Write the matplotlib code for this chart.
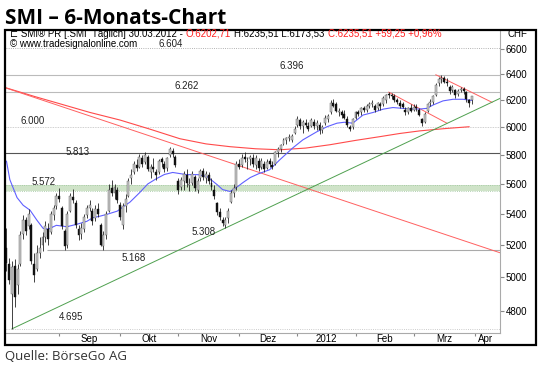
import numpy as np
import pandas as pd
import matplotlib
matplotlib.use("Agg")
import matplotlib.pyplot as plt
from matplotlib.patches import Rectangle
from matplotlib.ticker import FixedLocator, NullFormatter, FixedFormatter

# Handelstage SIX, 05.08.2011 - 30.03.2012
days = pd.bdate_range("2011-08-05", "2012-03-30")
days = days[~days.isin(pd.to_datetime(["2011-12-26", "2012-01-02"]))]

opens = [5180, 5080, 4900, 5070, 4950, 5080, 5270, 5360, 5320, 5330,
         5080, 5050, 5150, 5200, 5250, 5300, 5280, 5390, 5450, 5520,
         5440, 5290, 5200, 5420, 5510, 5470, 5300, 5270, 5300, 5390,
         5440, 5420, 5370, 5430, 5330, 5190, 5260, 5420, 5570, 5540,
         5560, 5460, 5330, 5450, 5520, 5640, 5680, 5730, 5720, 5780,
         5750, 5790, 5680, 5720, 5680, 5680, 5770, 5740, 5710, 5800,
         5830, 5790, 5620, 5580, 5620, 5660, 5590, 5610, 5650, 5560,
         5640, 5690, 5640, 5660, 5610, 5560, 5470, 5410, 5360, 5330,
         5370, 5480, 5540, 5580, 5740, 5730, 5790, 5750, 5770, 5780,
         5730, 5760, 5720, 5740, 5710, 5760, 5730, 5740, 5820, 5840,
         5880, 5910, 5920, 5910, 5960, 6020, 6050, 6010, 6030, 6010,
         6010, 6040, 6010, 6020, 5980, 6030, 6060, 6110, 6180, 6170,
         6110, 6110, 6100, 6060, 6000, 6000, 6070, 6110, 6110, 6140,
         6130, 6160, 6170, 6160, 6140, 6170, 6170, 6200, 6250, 6240,
         6230, 6200, 6180, 6170, 6130, 6110, 6140, 6130, 6150, 6130,
         6060, 6040, 6120, 6180, 6190, 6240, 6330, 6360, 6370, 6340,
         6300, 6280, 6280, 6250, 6280, 6290, 6260, 6200, 6202.71]
highs = [5310, 5120, 5100, 5110, 5080, 5290, 5390, 5380, 5430, 5340,
         5150, 5200, 5250, 5280, 5350, 5340, 5420, 5460, 5540, 5572,
         5450, 5300, 5420, 5540, 5565, 5490, 5330, 5340, 5400, 5460,
         5490, 5440, 5460, 5470, 5340, 5290, 5420, 5600, 5625, 5600,
         5580, 5480, 5470, 5530, 5640, 5700, 5760, 5770, 5810, 5800,
         5820, 5800, 5740, 5780, 5700, 5770, 5790, 5760, 5790, 5860,
         5850, 5800, 5640, 5650, 5690, 5700, 5640, 5690, 5660, 5640,
         5700, 5710, 5690, 5680, 5640, 5590, 5480, 5440, 5380, 5380,
         5440, 5560, 5600, 5760, 5770, 5810, 5820, 5790, 5800, 5810,
         5800, 5780, 5780, 5760, 5770, 5780, 5760, 5830, 5860, 5880,
         5920, 5930, 5950, 5950, 6010, 6080, 6070, 6050, 6060, 6040,
         6070, 6060, 6050, 6040, 6020, 6090, 6100, 6200, 6210, 6190,
         6140, 6130, 6130, 6080, 6020, 6070, 6120, 6130, 6150, 6160,
         6170, 6190, 6200, 6170, 6190, 6190, 6230, 6250, 6262, 6255,
         6250, 6220, 6200, 6190, 6150, 6150, 6170, 6170, 6170, 6140,
         6070, 6110, 6180, 6210, 6240, 6330, 6380, 6396, 6390, 6370,
         6320, 6320, 6290, 6290, 6300, 6300, 6270, 6210, 6235.51]
lows = [5040, 4960, 4695, 4820, 4900, 5070, 5240, 5260, 5300, 5080,
        4970, 5040, 5120, 5160, 5220, 5200, 5270, 5360, 5430, 5480,
        5300, 5168, 5180, 5410, 5470, 5310, 5230, 5240, 5280, 5370,
        5420, 5330, 5350, 5380, 5190, 5168, 5240, 5410, 5520, 5500,
        5470, 5360, 5300, 5410, 5510, 5600, 5670, 5690, 5710, 5720,
        5740, 5690, 5640, 5680, 5630, 5670, 5720, 5680, 5690, 5790,
        5790, 5720, 5530, 5560, 5560, 5580, 5550, 5590, 5550, 5540,
        5620, 5630, 5610, 5600, 5560, 5500, 5390, 5360, 5320, 5308,
        5340, 5470, 5510, 5560, 5700, 5720, 5750, 5700, 5730, 5720,
        5700, 5690, 5700, 5680, 5700, 5720, 5700, 5730, 5790, 5820,
        5870, 5880, 5900, 5890, 5950, 6000, 5990, 5960, 6000, 5970,
        6000, 5990, 5980, 5950, 5960, 6020, 6040, 6100, 6150, 6110,
        6080, 6070, 6060, 6000, 5970, 5990, 6060, 6080, 6090, 6110,
        6110, 6140, 6150, 6110, 6130, 6130, 6160, 6180, 6220, 6210,
        6190, 6170, 6140, 6140, 6090, 6100, 6110, 6120, 6120, 6080,
        6010, 6030, 6110, 6160, 6170, 6230, 6310, 6330, 6330, 6310,
        6250, 6260, 6220, 6230, 6260, 6250, 6190, 6150, 6173.53]
closes = [5085, 4985, 5060, 4880, 5050, 5260, 5360, 5290, 5400, 5100,
          5010, 5150, 5180, 5250, 5320, 5240, 5400, 5440, 5520, 5500,
          5320, 5190, 5400, 5520, 5490, 5330, 5260, 5310, 5380, 5440,
          5460, 5350, 5430, 5400, 5200, 5260, 5400, 5560, 5540, 5580,
          5490, 5380, 5450, 5500, 5620, 5660, 5740, 5710, 5790, 5740,
          5800, 5700, 5720, 5700, 5660, 5760, 5750, 5700, 5780, 5840,
          5810, 5730, 5560, 5630, 5670, 5610, 5600, 5670, 5570, 5620,
          5690, 5650, 5670, 5620, 5580, 5520, 5410, 5380, 5340, 5360,
          5420, 5540, 5570, 5740, 5720, 5780, 5770, 5760, 5790, 5740,
          5780, 5710, 5760, 5700, 5750, 5740, 5720, 5820, 5840, 5870,
          5910, 5920, 5930, 5940, 5990, 6060, 6010, 6040, 6020, 5990,
          6050, 6010, 6030, 5980, 6000, 6070, 6080, 6180, 6160, 6120,
          6120, 6090, 6070, 6020, 5990, 6060, 6110, 6100, 6140, 6130,
          6160, 6170, 6180, 6130, 6180, 6160, 6220, 6240, 6240, 6230,
          6200, 6190, 6160, 6150, 6110, 6140, 6120, 6150, 6140, 6090,
          6030, 6100, 6170, 6190, 6230, 6320, 6360, 6370, 6340, 6330,
          6270, 6300, 6240, 6270, 6290, 6270, 6210, 6176.26, 6235.51]

# gleitende Durchschnitte
blue_x = [0, 1.2, 3.8, 6, 8.5, 11, 13.2, 15, 18, 21.8, 25.4, 29, 31.2, 33.8,
          36.3, 40, 42, 44.6, 48, 51, 54, 57, 60, 65, 69, 72.4, 76, 78, 80.7,
          83, 85.4, 88, 91, 95, 98.7, 103.4, 107, 112, 115.7, 119.3, 122, 125,
          128.7, 132.3, 136, 139.5, 142.8, 145.7, 149.3, 151.8, 154, 157.6,
          161.2, 164.8, 168]
blue_v = [5757, 5630, 5508, 5457, 5424, 5358, 5306, 5300, 5325, 5316, 5332,
          5351, 5375, 5385, 5397, 5418, 5445, 5478, 5540, 5600, 5635, 5665,
          5679, 5664, 5664, 5651, 5596, 5562, 5549, 5576, 5610, 5644, 5670,
          5698, 5768, 5852, 5909, 5967, 6004, 6030, 6037, 6030, 6090, 6109,
          6134, 6146, 6140, 6135, 6135, 6140, 6165, 6196, 6208, 6208, 6200]
ma_x = [0, 10, 19.3, 30, 41, 52, 62.6, 72, 80.7, 90, 98.7, 108, 116.8, 126,
        134.8, 142, 149.3, 158, 167]
ma_v = [6294, 6230, 6174, 6110, 6053, 5985, 5917, 5880, 5860, 5845, 5838,
        5850, 5874, 5905, 5932, 5955, 5974, 5990, 6004]

# Trendlinien
red_long_x, red_long_v = [-0.2, 178.2], [6294, 5150]
red_feb_x, red_feb_v = [138, 159], [6262, 6030]
red_mar_x, red_mar_v = [155, 175.3], [6396, 6185]
green_x, green_v = [2, 178.2], [4695, 6215]

# horizontale Marken
level_labels = [(59.4, 6640, "6.604"), (103, 6466, "6.396"), (65, 6306, "6.262"),
                (9.6, 6046, "6.000"), (25.8, 5824, "5.813"), (13.5, 5616, "5.572"),
                (46, 5119, "5.168"), (71, 5281, "5.308"), (23.3, 4761, "4.695")]

yticks = [4800, 5000, 5200, 5400, 5600, 5800, 6000, 6200, 6400, 6600]
month_names = ["Sep", "Okt", "Nov", "Dez", "2012", "Feb", "Mrz", "Apr"]

W, H = 540, 369
def fx(px): return px / W
def fy(py): return 1 - py / H

plt.rcParams['font.family'] = ['Liberation Sans', 'DejaVu Sans']

fig = plt.figure(figsize=(5.4, 3.69), dpi=100)
ax = fig.add_axes([fx(6), fy(333), fx(494), 302 / H])
ax.set_yscale('log')
ax.set_xlim(-0.18, 178.16)
ax.set_ylim(4671, 6746)

xi = np.arange(len(days))
o, h, l, c = map(np.array, (opens, highs, lows, closes))

# Linien
ax.axhline(6604, color='#999999', lw=0.6, ls=':', zorder=1)
ax.axhline(6396, color='#bbbbbb', lw=0.8, zorder=1)
ax.axhline(6262, color='#bbbbbb', lw=0.8, zorder=1)
ax.axhline(6000, color='#c0c0c0', lw=0.6, ls=(0, (1, 1)), zorder=1)
ax.axhline(5813, color='#555555', lw=0.8, zorder=1)
ax.hlines(5168, 14.5, 178.2, color='#aaaaaa', lw=0.8, zorder=1)
ax.axhline(4695, color='#bbbbbb', lw=0.6, ls=':', zorder=1)
ax.axhspan(5550, 5594, color='#cfe3c8', lw=0, zorder=1)
ax.axhline(5550, color='#9cc49c', lw=0.6, ls=':', zorder=1)
ax.axhline(5594, color='#9cc49c', lw=0.6, ls=':', zorder=1)

ax.plot(ma_x, ma_v, color='#ff4a4a', lw=0.8, zorder=2)
ax.plot(red_long_x, red_long_v, color='#ff6060', lw=0.7, zorder=2)
ax.plot(red_feb_x, red_feb_v, color='#ff6060', lw=0.7, zorder=2)
ax.plot(red_mar_x, red_mar_v, color='#ff6060', lw=0.7, zorder=2)
ax.plot(green_x, green_v, color='#4fa04f', lw=0.7, zorder=2)
ax.plot(blue_x, blue_v, color='#6060ff', lw=0.8, zorder=2)

# Kerzen
up = c >= o
ax.vlines(xi, l, h, color='#222222', lw=0.6, zorder=3)
body_lo = np.minimum(o, c)
body_hi = np.maximum(o, c)
ax.bar(xi[up], body_hi[up] - body_lo[up], bottom=body_lo[up], width=0.7,
       color='#c8c8c8', edgecolor='#555555', lw=0.3, zorder=4)
ax.bar(xi[~up], body_hi[~up] - body_lo[~up], bottom=body_lo[~up], width=0.7,
       color='#111111', edgecolor='#111111', lw=0.3, zorder=4)

for x, v, s in level_labels:
    ax.text(x, v, s, fontsize=7, ha='center', va='center', color='#222222', zorder=5)

# Achsen
ax.yaxis.tick_right()
ax.yaxis.set_major_locator(FixedLocator(yticks))
ax.yaxis.set_major_formatter(FixedFormatter([str(t) for t in yticks]))
ax.yaxis.set_minor_locator(FixedLocator([]))
ax.tick_params(axis='y', length=3, color='#888888', labelsize=7, pad=1)

firsts = np.flatnonzero(np.r_[True, days.month[1:] != days.month[:-1]])
bounds = list(firsts[1:]) + [len(days)]
mids = [(a + b) / 2 for a, b in zip(bounds[:-1], bounds[1:])] + [bounds[-1] + 4]
ax.xaxis.set_major_locator(FixedLocator(bounds))
ax.xaxis.set_major_formatter(NullFormatter())
ax.xaxis.set_minor_locator(FixedLocator(mids))
ax.xaxis.set_minor_formatter(FixedFormatter(month_names))
ax.tick_params(axis='x', which='major', length=2.5, color='#888888')
ax.tick_params(axis='x', which='minor', length=0, labelsize=7, pad=0.5)

for side in ('left', 'top'):
    ax.spines[side].set_visible(False)
for side in ('right', 'bottom'):
    ax.spines[side].set_color('#aaaaaa')
    ax.spines[side].set_linewidth(0.8)

fig.add_artist(Rectangle((fx(5), fy(345)), fx(531), 315 / H, transform=fig.transFigure,
                         fill=False, lw=1.6, ec='black'))

# Texte
fig.text(fx(5), fy(18), "SMI – 6-Monats-Chart", fontsize=15, fontweight='bold',
         family='Open Sans', va='center')
fig.text(fx(5), fy(356), "Quelle: BörseGo AG", fontsize=9.5, family='Open Sans',
         color='#333333', va='center')
fig.text(fx(508), fy(34), "CHF", fontsize=7, va='center')
fig.text(fx(10), fy(44), "© www.tradesignalonline.com", fontsize=7, va='center')

renderer = fig.canvas.get_renderer()
segments = [("⊏ SMI® PR [.SMI  Täglich] 30.03.2012 -", 'black'),
            ("O:6202,71", '#ff2020'),
            ("H:6235,51 L:6173,53", 'black'),
            ("C:6235,51 +59,25 +0,96%", '#ff2020')]
xpos = fx(10)
for s, col in segments:
    t = fig.text(xpos, fy(34), s, fontsize=7, color=col, va='center',
                 family=['Liberation Sans', 'DejaVu Sans'])
    bb = t.get_window_extent(renderer)
    xpos = fig.transFigure.inverted().transform((bb.x1, 0))[0] + fx(3)

fig.savefig("out.png", dpi=100)
